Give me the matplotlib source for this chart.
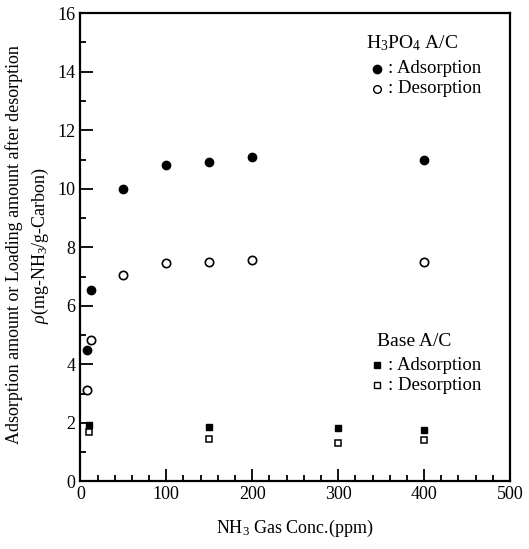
import matplotlib
matplotlib.use("Agg")
import matplotlib.pyplot as plt
from matplotlib.ticker import MultipleLocator

plt.rcParams['font.family'] = ['Liberation Serif', 'DejaVu Serif']
plt.rcParams['mathtext.fontset'] = 'custom'
plt.rcParams['mathtext.rm'] = 'Liberation Serif'
plt.rcParams['mathtext.it'] = 'Liberation Serif:italic'

# H3PO4-treated activated carbon
h3po4_conc = [8, 12, 50, 100, 150, 200, 400]
h3po4_ads = [4.48, 6.55, 10.0, 10.8, 10.9, 11.1, 11.0]
h3po4_des_conc = [8, 12, 50, 100, 150, 200, 400]
h3po4_des = [3.13, 4.85, 7.07, 7.48, 7.5, 7.55, 7.5]

# Untreated (base) activated carbon
base_conc = [10, 150, 300, 400]
base_ads = [1.93, 1.86, 1.82, 1.76]
base_des = [1.68, 1.44, 1.31, 1.42]

fig = plt.figure(figsize=(5.29, 5.49), dpi=100)
ax = fig.add_axes([0.152, 0.123, 0.812, 0.853])

ax.plot(h3po4_conc, h3po4_ads, 'o', color='black', ms=6, ls='none')
ax.plot(h3po4_des_conc, h3po4_des, 'o', mfc='white', mec='black', mew=1.2, ms=6, ls='none')
ax.plot(base_conc, base_ads, 's', color='black', ms=4.5, ls='none')
ax.plot(base_conc, base_des, 's', mfc='white', mec='black', mew=1.1, ms=4.5, ls='none')

ax.set_xlim(0, 500)
ax.set_ylim(0, 16)
ax.xaxis.set_major_locator(MultipleLocator(100))
ax.xaxis.set_minor_locator(MultipleLocator(20))
ax.yaxis.set_major_locator(MultipleLocator(2))
ax.yaxis.set_minor_locator(MultipleLocator(1))
ax.tick_params(which='both', direction='in', top=False, right=False, labelsize=13, width=1.3)
ax.tick_params(which='major', length=9)
ax.tick_params(which='minor', length=4)
for s in ax.spines.values():
    s.set_linewidth(1.6)

xl = ax.set_xlabel('NH$_3$ Gas Conc.(ppm)', fontsize=13)
xl.set_va('center')
ax.xaxis.set_label_coords(0.5, -0.101)
yl = ax.set_ylabel('Adsorption amount or Loading amount after desorption\n'
                   r'$\rho$(mg-NH$_3$/g-Carbon)', fontsize=13, linespacing=1.45)
yl.set_va('center')
ax.yaxis.set_label_coords(-0.122, 0.505)

# Keys for the two carbons
tf = ax.transAxes
fs = 13.5
ax.text(0.665, 0.935, 'H$_3$PO$_4$ A/C', transform=tf, fontsize=14, va='center')
ax.plot([0.69], [0.881], 'o', color='black', ms=6, transform=tf)
ax.text(0.715, 0.881, ': Adsorption', transform=tf, fontsize=fs, va='center')
ax.plot([0.69], [0.839], 'o', mfc='white', mec='black', mew=1.0, ms=5.5, transform=tf)
ax.text(0.715, 0.839, ': Desorption', transform=tf, fontsize=fs, va='center')

ax.text(0.69, 0.298, 'Base A/C', transform=tf, fontsize=14, va='center')
ax.plot([0.69], [0.248], 's', color='black', ms=4.5, transform=tf)
ax.text(0.715, 0.248, ': Adsorption', transform=tf, fontsize=fs, va='center')
ax.plot([0.69], [0.205], 's', mfc='white', mec='black', mew=1.0, ms=4.5, transform=tf)
ax.text(0.715, 0.205, ': Desorption', transform=tf, fontsize=fs, va='center')

fig.savefig('out.png', dpi=100)
